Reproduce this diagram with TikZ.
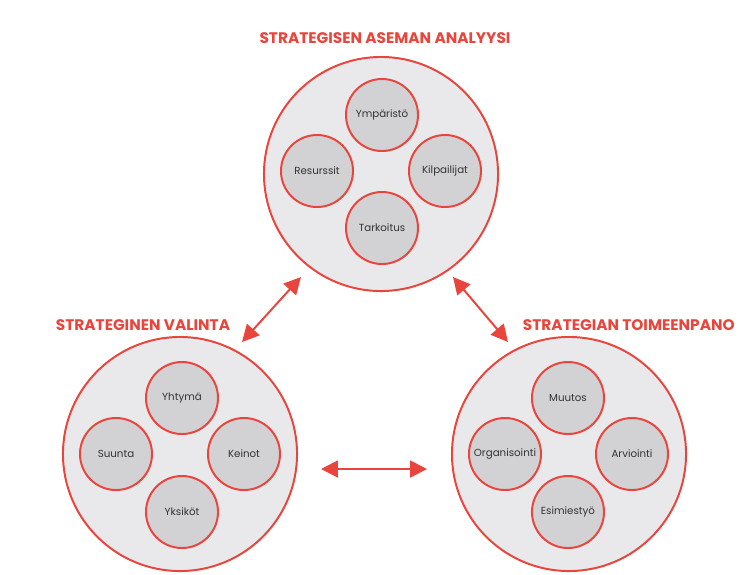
\documentclass[tikz,border=0pt]{standalone}
\usepackage{fontspec}
\setmainfont{Poppins}
\usetikzlibrary{arrows.meta}
\definecolor{strred}{HTML}{E8453C}
\definecolor{outerfill}{HTML}{E9E9EB}
\definecolor{innerfill}{HTML}{D2D2D4}
\definecolor{txtgray}{HTML}{333335}
\tikzset{
  outer/.style={circle,draw=strred,line width=1.4pt,fill=outerfill,minimum size=5.85cm},
  inner/.style={circle,draw=strred,line width=1.4pt,fill=innerfill,minimum size=1.8cm,
    inner sep=0pt,text=txtgray,font=\fontsize{7.3}{9}\selectfont},
  title/.style={text=strred,font=\bfseries\fontsize{10.9}{12}\selectfont},
  link/.style={{Triangle[length=12pt,width=12pt]}-{Triangle[length=12pt,width=12pt]},
    draw=strred,line width=1.4pt}
}
\begin{document}
\begin{tikzpicture}[x=0.025cm,y=-0.025cm]
  \useasboundingbox (0,0) rectangle (742,574);
  % the three main blocks
  \node[outer] (analyysi) at (381,174) {};
  \node[outer] (valinta) at (180,454) {};
  \node[outer] (toimeenpano) at (569,454) {};
  % titles
  \node[title] (t1) at (385,38) {STRATEGISEN ASEMAN ANALYYSI};
  \node[title] (t2) at (143,325) {STRATEGINEN VALINTA};
  \node[title,anchor=west] (t3) at (518,325) {STRATEGIAN TOIMEENPANO};
  % sub topics
  \node[inner] (ymparisto) at (382,115) {Ympäristö};
  \node[inner] (resurssit) at (317,171) {Resurssit};
  \node[inner] (kilpailijat) at (445,171) {Kilpailijat};
  \node[inner] (tarkoitus) at (382,228) {Tarkoitus};
  \node[inner] (yhtyma) at (182,398) {Yhtymä};
  \node[inner] (suunta) at (116,454) {Suunta};
  \node[inner] (keinot) at (244,454) {Keinot};
  \node[inner] (yksikot) at (182,512) {Yksiköt};
  \node[inner] (muutos) at (568,398) {Muutos};
  \node[inner] (organisointi) at (505,454) {Organisointi};
  \node[inner] (arviointi) at (632,454) {Arviointi};
  \node[inner] (esimiestyo) at (568,512) {Esimiestyö};
  % arrows between the blocks
  \coordinate (a1) at (242,342);
  \coordinate (a2) at (301,277);
  \coordinate (b1) at (453,277);
  \coordinate (b2) at (508,342);
  \coordinate (c1) at (321,469);
  \coordinate (c2) at (427,469);
  \draw[link] (a1) -- (a2);
  \draw[link] (b1) -- (b2);
  \draw[link] (c1) -- (c2);
\end{tikzpicture}
\end{document}
